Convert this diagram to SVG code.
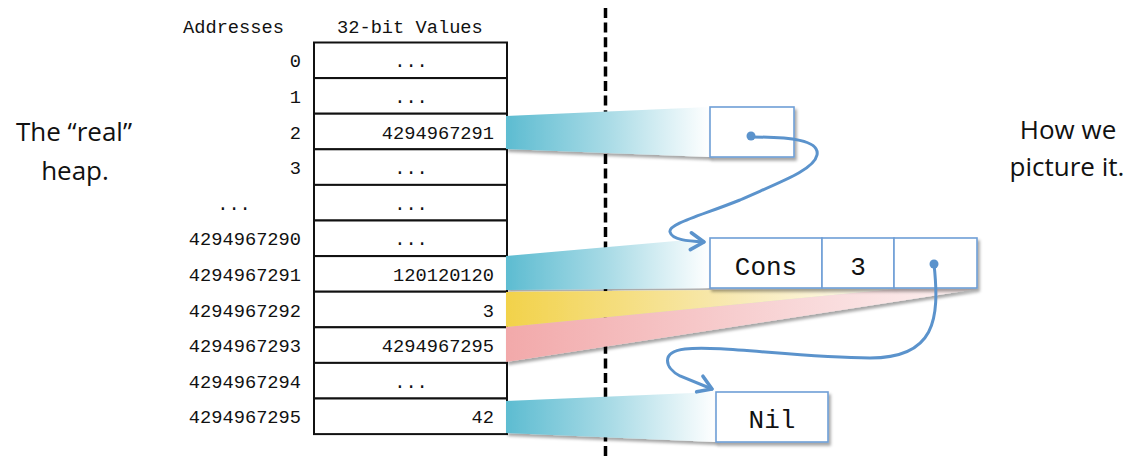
<svg xmlns="http://www.w3.org/2000/svg" width="1136" height="459" viewBox="0 0 1136 459">
<style>
.mono{font-family:"Liberation Mono","DejaVu Sans Mono",monospace;font-size:18.7px;fill:#111}
.addr{text-anchor:end}
.val{text-anchor:end}
.dots{text-anchor:middle}
.big{font-family:"Liberation Mono","DejaVu Sans Mono",monospace;font-size:26px;fill:#111;text-anchor:middle}
.side{font-family:"Open Sans","Liberation Sans",sans-serif;font-size:26px;fill:#111;text-anchor:middle}
.cell{fill:#fff;stroke:#111;stroke-width:2}
.box{fill:#fff;stroke:#6f9fd6;stroke-width:1.6}
.link{fill:none;stroke:#5b93cc;stroke-width:3;stroke-linecap:round}
</style>
<defs>
<linearGradient id="gTeal" x1="0" y1="0" x2="1" y2="0">
<stop offset="0" stop-color="#5dbcd1"/><stop offset="0.5" stop-color="#a9dbe6"/><stop offset="1" stop-color="#ffffff"/>
</linearGradient>
<linearGradient id="gYellow" x1="0" y1="0" x2="1" y2="0">
<stop offset="0" stop-color="#f2d24a"/><stop offset="0.6" stop-color="#f8eab6"/><stop offset="1" stop-color="#fffdf6"/>
</linearGradient>
<linearGradient id="gPink" x1="0" y1="0" x2="1" y2="0">
<stop offset="0" stop-color="#f2a9aa"/><stop offset="0.6" stop-color="#f8d6d7"/><stop offset="1" stop-color="#fdf1f1"/>
</linearGradient>
<filter id="sh" x="-10%" y="-20%" width="120%" height="160%">
<feDropShadow dx="2" dy="3" stdDeviation="1.8" flood-color="#000" flood-opacity="0.35"/>
</filter>
<marker id="arr" markerUnits="userSpaceOnUse" markerWidth="24" markerHeight="24" viewBox="-14 -10 16 20" refX="0" refY="0" orient="auto">
<path d="M-11,-7 L0,0 L-11,7" fill="none" stroke="#5b93cc" stroke-width="3" stroke-linecap="round" stroke-linejoin="round"/>
</marker>
</defs>

<g id="headers">
<text class="mono" x="183" y="33">Addresses</text>
<text class="mono" x="337" y="33">32-bit Values</text>
</g>

<g id="divider">
<line x1="605.5" y1="8" x2="605.5" y2="459" stroke="#000" stroke-width="3.5" stroke-dasharray="10 4.6"/>
</g>

<g id="heap-table">
<rect class="cell" x="314" y="42.5" width="193" height="35.6"/>
<rect class="cell" x="314" y="78.1" width="193" height="35.6"/>
<rect class="cell" x="314" y="113.7" width="193" height="35.6"/>
<rect class="cell" x="314" y="149.3" width="193" height="35.6"/>
<rect class="cell" x="314" y="184.9" width="193" height="35.6"/>
<rect class="cell" x="314" y="220.5" width="193" height="35.6"/>
<rect class="cell" x="314" y="256.1" width="193" height="35.6"/>
<rect class="cell" x="314" y="291.7" width="193" height="35.6"/>
<rect class="cell" x="314" y="327.3" width="193" height="35.6"/>
<rect class="cell" x="314" y="362.9" width="193" height="35.6"/>
<rect class="cell" x="314" y="398.5" width="193" height="35.6"/>

<text class="mono addr" x="301" y="67.3">0</text>
<text class="mono addr" x="301" y="102.9">1</text>
<text class="mono addr" x="301" y="138.5">2</text>
<text class="mono addr" x="301" y="174.1">3</text>
<text class="mono dots" x="234" y="209.7">...</text>
<text class="mono addr" x="301" y="245.3">4294967290</text>
<text class="mono addr" x="301" y="280.9">4294967291</text>
<text class="mono addr" x="301" y="316.5">4294967292</text>
<text class="mono addr" x="301" y="352.1">4294967293</text>
<text class="mono addr" x="301" y="387.7">4294967294</text>
<text class="mono addr" x="301" y="423.3">4294967295</text>

<text class="mono dots" x="411" y="67.3">...</text>
<text class="mono dots" x="411" y="102.9">...</text>
<text class="mono val" x="494" y="138.5">4294967291</text>
<text class="mono dots" x="411" y="174.1">...</text>
<text class="mono dots" x="411" y="209.7">...</text>
<text class="mono dots" x="411" y="245.3">...</text>
<text class="mono val" x="494" y="280.9">120120120</text>
<text class="mono val" x="494" y="316.5">3</text>
<text class="mono val" x="494" y="352.1">4294967295</text>
<text class="mono dots" x="411" y="387.7">...</text>
<text class="mono val" x="494" y="423.3">42</text>
</g>

<g id="ribbons" filter="url(#sh)">
<polygon fill="url(#gPink)" points="506,327 894,289 977,289 506,362"/>
<polygon fill="url(#gYellow)" points="506,292 822,289 894,289 506,327"/>
<polygon fill="url(#gTeal)" points="506,256 710,238 710,288 506,290"/>
<polygon fill="url(#gTeal)" points="506,116 710,107 710,157 506,149"/>
<polygon fill="url(#gTeal)" points="506,401 716,392 716,442 506,433"/>
</g>

<g id="node-pointer" filter="url(#sh)">
<rect class="box" x="710" y="107" width="84" height="50"/>
</g>

<g id="node-cons" filter="url(#sh)">
<rect class="box" x="710" y="238" width="112" height="50"/>
<rect class="box" x="822" y="238" width="72" height="50"/>
<rect class="box" x="894" y="238" width="83" height="50"/>
</g>
<g id="node-cons-text">
<text class="big" x="766" y="275">Cons</text>
<text class="big" x="858" y="275">3</text>
</g>

<g id="node-nil">
<rect class="box" x="716" y="392" width="112" height="50" filter="url(#sh)"/>
<text class="big" x="772" y="428">Nil</text>
</g>

<g id="connectors">
<path class="link" d="M751,137 C790,137 820,140 817,155 C814,170 780,182 740,200 C700,216 668,224 670,232 C672,240 688,241 704,242" marker-end="url(#arr)"/>
<circle cx="751" cy="136" r="4.5" fill="#5b93cc"/>
<path class="link" d="M934,264 C940,320 935,358 870,358 C800,358 720,345 685,349 C660,352 665,368 680,376 L712,389" marker-end="url(#arr)"/>
<circle cx="934" cy="264" r="4.5" fill="#5b93cc"/>
</g>

<g id="labels">
<text class="side" x="74" y="141">The “real”</text>
<text class="side" x="75" y="180">heap.</text>
<text class="side" x="1068" y="139">How we</text>
<text class="side" x="1067" y="176">picture it.</text>
</g>
</svg>
